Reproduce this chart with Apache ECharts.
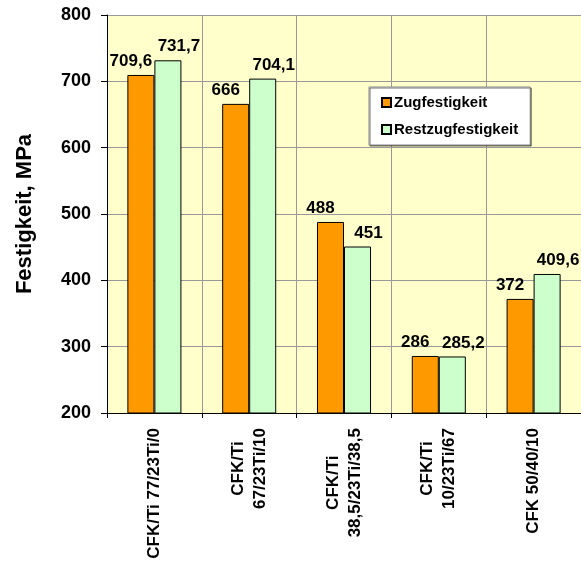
<!DOCTYPE html>
<html>
<head>
<meta charset="utf-8">
<script src="https://cdn.jsdelivr.net/npm/echarts@6/dist/echarts.min.js"></script>
<style>
  html, body { margin: 0; padding: 0; background: #fff; }
  #main { width: 581px; height: 564px; }
</style>
</head>
<body>
<div id="main"></div>
<script>
var categories = [
  'CFK/Ti 77/23Ti/0',
  'CFK/Ti\n67/23Ti/10',
  'CFK/Ti\n38,5/23Ti/38,5',
  'CFK/Ti\n10/23Ti/67',
  'CFK 50/40/10'
];
var zugfestigkeit = [709.6, 666, 488, 286, 372];
var restzugfestigkeit = [731.7, 704.1, 451, 285.2, 409.6];
var yTicks = [200, 800, 100]; // min, max, interval

var font = 'Arial, "Liberation Sans", sans-serif';

function komma(p) {
  return String(p.value).replace('.', ',');
}

var myChart = echarts.init(document.getElementById('main'));

myChart.setOption({
  animation: false,
  backgroundColor: '#fff',
  textStyle: { fontFamily: font },
  grid: {
    left: 107,
    top: 15,
    bottom: 151,
    right: -2,
    show: true,
    backgroundColor: '#FFFFCC',
    borderWidth: 0
  },
  legend: {
    orient: 'vertical',
    left: 369,
    top: 87,
    itemWidth: 9,
    itemHeight: 9,
    itemGap: 12,
    padding: [8, 12, 8, 12],
    backgroundColor: '#fff',
    borderColor: '#888',
    borderWidth: 1,
    shadowColor: 'rgba(0,0,0,0.55)',
    shadowOffsetX: 1,
    shadowOffsetY: 1,
    shadowBlur: 0,
    icon: 'rect',
    textStyle: {
      fontFamily: font,
      fontWeight: 'bold',
      fontSize: 15,
      color: '#000',
      padding: [0, 0, 0, -2]
    }
  },
  xAxis: {
    type: 'category',
    data: categories,
    axisLine: { lineStyle: { color: '#000', width: 1 } },
    axisTick: { show: true, length: 5, lineStyle: { color: '#000' } },
    splitLine: { show: true, lineStyle: { color: '#999', width: 1 } },
    axisLabel: {
      interval: 0,
      rotate: 90,
      margin: 15,
      formatter: function (v) {
        return v.split('\n').map(function (l) { return '{c|' + l + '}'; }).join('\n');
      },
      rich: {
        c: {
          align: 'center',
          fontFamily: font,
          fontWeight: 'bold',
          fontSize: 17,
          lineHeight: 22,
          color: '#000'
        }
      }
    }
  },
  yAxis: {
    type: 'value',
    min: yTicks[0],
    max: yTicks[1],
    interval: yTicks[2],
    name: 'Festigkeit, MPa',
    nameLocation: 'middle',
    nameGap: 71,
    nameTextStyle: {
      fontFamily: font,
      fontWeight: 'bold',
      fontSize: 22,
      color: '#000'
    },
    axisLine: { show: true, lineStyle: { color: '#000', width: 1 } },
    axisTick: { show: true, length: 6, lineStyle: { color: '#000' } },
    splitLine: { show: true, lineStyle: { color: '#999', width: 1 } },
    axisLabel: {
      margin: 16,
      fontFamily: font,
      fontWeight: 'bold',
      fontSize: 18,
      color: '#000'
    }
  },
  series: [
    {
      name: 'Zugfestigkeit',
      type: 'bar',
      data: zugfestigkeit,
      barGap: '0%',
      barCategoryGap: '43%',
      itemStyle: { color: '#FF9900', borderColor: '#000', borderWidth: 1 },
      label: {
        show: true,
        position: 'top',
        offset: [-10, 0],
        formatter: komma,
        fontFamily: font,
        fontWeight: 'bold',
        fontSize: 17,
        color: '#000'
      }
    },
    {
      name: 'Restzugfestigkeit',
      type: 'bar',
      data: restzugfestigkeit,
      barGap: '0%',
      barCategoryGap: '43%',
      itemStyle: { color: '#CCFFCC', borderColor: '#000', borderWidth: 1 },
      label: {
        show: true,
        position: 'top',
        offset: [11, 0],
        formatter: komma,
        fontFamily: font,
        fontWeight: 'bold',
        fontSize: 17,
        color: '#000'
      }
    }
  ]
});
</script>
</body>
</html>
